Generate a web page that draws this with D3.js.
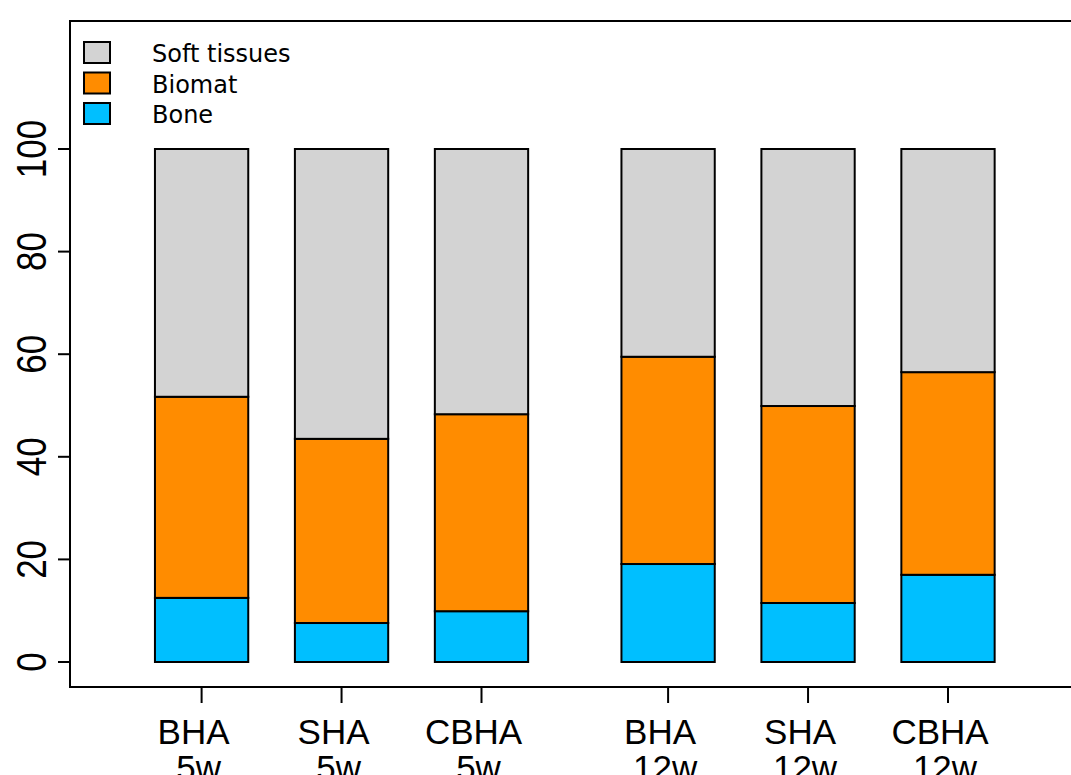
<!DOCTYPE html>
<html>
<head>
<meta charset="utf-8">
<script src="https://cdn.jsdelivr.net/npm/d3@7"></script>
<style>
  body { margin: 0; background: #fff; }
  svg { display: block; }
  .axisLine { stroke: #000; stroke-width: 2; fill: none; }
  .tickLabel { font-family: "Liberation Sans", Arial, sans-serif; font-size: 35px; fill: #000; }
  .legendText { font-family: "DejaVu Sans", Verdana, sans-serif; font-size: 24px; fill: #000; }
</style>
</head>
<body>
<script>

// groups, in drawing order
var groups = ["BHA", "SHA", "CBHA", "BHA", "SHA", "CBHA"];
var weeks = ["5w", "5w", "5w", "12w", "12w", "12w"];
var spaces = [0.5, 0.5, 0.5, 1, 0.5, 0.5];

// percentages
var bone = [12.5, 7.6, 9.9, 19.1, 11.5, 17.0];
var biomat = [39.2, 35.9, 38.4, 40.4, 38.4, 39.5];
var softTissues = [48.3, 56.5, 51.7, 40.5, 50.1, 43.5];

var seriesNames = ["Soft tissues", "Biomat", "Bone"];
var seriesColors = ["#d3d3d3", "#ff8c00", "#00bfff"];
var yTicks = [0, 20, 40, 60, 80, 100];

/************************************************************************************************************/

var width = 1071, height = 775;

var svg = d3.select("body").append("svg")
  .attr("width", width)
  .attr("height", height);

svg.box = {left: 70, top: 21, right: 1085, bottom: 687};

svg.y = d3.scaleLinear().domain([0, 100]).range([662, 149]);
svg.x = d3.scaleLinear().domain([0, 1]).range([108.3, 201.6]);

// left edge of each bar, like barplot(space=...)
var lefts = [], pos = 0;
spaces.forEach(function(s){ pos += s; lefts.push(pos); pos += 1; });

var table = groups.map(function(g, i){
  return {group: g, week: weeks[i], left: lefts[i], Bone: bone[i], Biomat: biomat[i], "Soft tissues": softTissues[i]};
});

var stack = d3.stack().keys(["Bone", "Biomat", "Soft tissues"]);
var layers = stack(table);

var colorOf = d3.scaleOrdinal().domain(seriesNames).range(seriesColors);

/************************************************************************************************************/

svg.selectAll(".layer").data(layers).enter().append("g")
  .attr("class", "layer")
  .attr("fill", function(d){ return colorOf(d.key); })
  .selectAll("rect").data(function(d){ return d; }).enter().append("rect")
  .attr("x", function(d){ return svg.x(d.data.left); })
  .attr("width", function(d){ return svg.x(d.data.left + 1) - svg.x(d.data.left); })
  .attr("y", function(d){ return svg.y(d[1]); })
  .attr("height", function(d){ return svg.y(d[0]) - svg.y(d[1]); })
  .attr("stroke", "#000")
  .attr("stroke-width", 2);

// frame
svg.append("rect")
  .attr("class", "axisLine")
  .attr("x", svg.box.left)
  .attr("y", svg.box.top)
  .attr("width", svg.box.right - svg.box.left)
  .attr("height", svg.box.bottom - svg.box.top);

// y axis
var yAxis = svg.append("g").attr("class", "axisLine");
yAxis.selectAll("line").data(yTicks).enter().append("line")
  .attr("x1", svg.box.left - 12)
  .attr("x2", svg.box.left)
  .attr("y1", function(d){ return svg.y(d); })
  .attr("y2", function(d){ return svg.y(d); });

svg.selectAll(".ylab").data(yTicks).enter().append("text")
  .attr("class", "tickLabel ylab")
  .attr("text-anchor", "middle")
  .attr("font-size", "32px")
  .attr("transform", function(d){ return "translate(46," + svg.y(d) + ") rotate(-90) scale(1,1.22)"; })
  .text(function(d){ return d; });

// x axis ticks at bar centres
var xAxis = svg.append("g").attr("class", "axisLine");
xAxis.selectAll("line").data(table).enter().append("line")
  .attr("x1", function(d){ return svg.x(d.left + 0.5); })
  .attr("x2", function(d){ return svg.x(d.left + 0.5); })
  .attr("y1", svg.box.bottom)
  .attr("y2", svg.box.bottom + 16);

var xlab = svg.selectAll(".xlab").data(table).enter().append("text")
  .attr("class", "tickLabel xlab")
  .attr("text-anchor", "middle")
  .attr("x", function(d){ return svg.x(d.left + 0.5) - 8; })
  .attr("y", 744);

xlab.append("tspan").text(function(d){ return d.group; });
xlab.append("tspan")
  .attr("x", function(d){ return svg.x(d.left + 0.5) - 3; })
  .attr("dy", 36)
  .text(function(d){ return d.week; });

// legend
var legend = svg.selectAll(".legend").data(seriesNames).enter().append("g")
  .attr("class", "legend")
  .attr("transform", function(d, i){ return "translate(0," + (53 + i * 30.5) + ")"; });

legend.append("rect")
  .attr("x", 84).attr("y", -11)
  .attr("width", 26).attr("height", 21)
  .attr("fill", function(d){ return colorOf(d); })
  .attr("stroke", "#000").attr("stroke-width", 2);

legend.append("text")
  .attr("class", "legendText")
  .attr("x", 152).attr("y", 9)
  .text(function(d){ return d; });

</script>
</body>
</html>
